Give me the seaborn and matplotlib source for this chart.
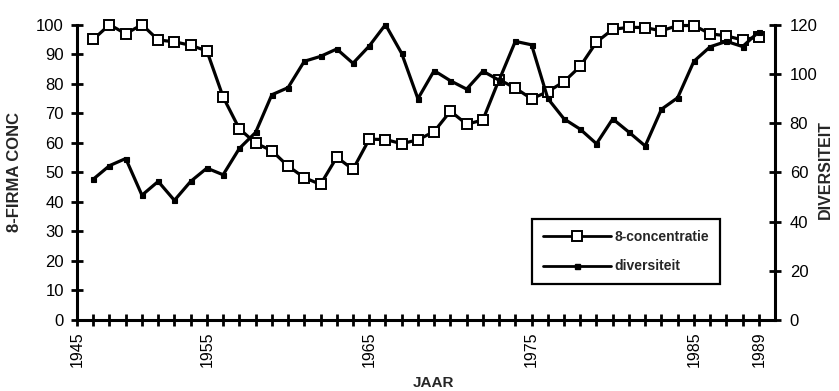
import matplotlib
matplotlib.use("Agg")
import matplotlib.pyplot as plt
import seaborn as sns
import pandas as pd
from matplotlib.lines import Line2D

# Jaarreeks en de twee indicatoren
years = list(range(1948, 1990))
conc = [95.0, 100.0, 96.9, 100.0, 94.8, 94.2, 93.0, 91.1,
        75.5, 64.7, 59.9, 57.3, 52.1, 48.2, 45.9, 55.1, 51.0, 61.2,
        61.1, 59.7, 61.0, 63.8, 70.7, 66.3, 67.7, 81.4, 78.5, 74.9,
        77.3, 80.7, 85.9, 94.1, 98.4, 99.1, 99.0, 97.9, 99.7, 99.7,
        96.9, 96.2, 94.8, 95.9]
div = [57.2, 62.7, 65.6, 50.7, 56.3, 48.6, 56.3, 61.7,
       59.0, 69.7, 76.2, 91.5, 94.4, 105.1, 107.1, 110.1, 104.3, 111.3,
       120.0, 108.3, 89.9, 101.3, 97.2, 93.8, 101.1, 97.4, 113.2, 111.8,
       90.0, 81.7, 77.5, 71.6, 81.7, 76.3, 70.7, 85.6, 90.3, 105.1,
       111.0, 113.2, 111.1, 117.1]

tick_pos = [1947, 1955, 1965, 1975, 1985, 1989]
tick_labels = ["1945", "1955", "1965", "1975", "1985", "1989"]
left_ticks = list(range(0, 101, 10))
right_ticks = list(range(0, 121, 20))

series_names = ["8-concentratie", "diversiteit"]

df = pd.DataFrame({"jaar": years, "conc": conc, "div": div})

sns.set_style("ticks")
plt.rcParams["font.family"] = ["Liberation Sans", "DejaVu Sans"]

fig = plt.figure(figsize=(8.39, 3.91), dpi=100)
ax = fig.add_axes([0.0918, 0.1816, 0.832, 0.7554])
ax2 = ax.twinx()

lw = 2.3
sns.lineplot(data=df, x="jaar", y="conc", ax=ax, color="black", lw=lw,
             marker="s", markersize=7, markerfacecolor="white",
             markeredgecolor="black", markeredgewidth=1.4, clip_on=False,
             legend=False)
sns.lineplot(data=df, x="jaar", y="div", ax=ax2, color="black", lw=lw,
             marker="s", markersize=3.6, markerfacecolor="black",
             markeredgecolor="black", markeredgewidth=0.8, clip_on=False,
             legend=False)

ax.set_xlim(1947, 1990)
ax.set_ylim(0, 100)
ax2.set_ylim(0, 120)

xt = list(range(1947, 1990))
ax.set_xticks(xt)
ax.set_xticklabels([tick_labels[tick_pos.index(y)] if y in tick_pos else ""
                    for y in xt], rotation=90, fontsize=11.5)
ax.set_yticks(left_ticks)
ax.set_yticklabels([str(v) for v in left_ticks], fontsize=12)
ax2.set_yticks(right_ticks)
ax2.set_yticklabels([str(v) for v in right_ticks], fontsize=12)

for a in (ax, ax2):
    a.spines["top"].set_visible(False)
    for s in ("left", "right", "bottom"):
        a.spines[s].set_linewidth(2.2)
        a.spines[s].set_color("black")
    a.tick_params(axis="both", direction="inout", length=9, width=2,
                  color="black", labelcolor="black")
ax.spines["right"].set_visible(False)
ax2.spines["left"].set_visible(False)
ax2.spines["bottom"].set_visible(False)
ax.tick_params(axis="y", pad=5)
ax.tick_params(axis="x", pad=4)
ax2.tick_params(axis="y", pad=6)

ax.set_xlabel("JAAR", fontsize=11, fontweight="bold")
ax.set_ylabel("8-FIRMA CONC", fontsize=12, fontweight="bold")
ax2.set_ylabel("DIVERSITEIT", fontsize=11.5, fontweight="bold", rotation=90)
ax.xaxis.set_label_coords(0.511, -0.19)
ax.yaxis.set_label_coords(-0.079, 0.5)
ax2.yaxis.set_label_coords(1.062, 0.51)

handles = [
    Line2D([], [], color="black", lw=2, marker="s", markersize=7,
           markerfacecolor="white", markeredgecolor="black",
           markeredgewidth=1.4),
    Line2D([], [], color="black", lw=2, marker="s", markersize=3.6,
           markerfacecolor="black", markeredgecolor="black"),
]
leg = ax2.legend(handles, series_names, loc="upper left",
                 bbox_to_anchor=(0.652, 0.342),
                 handlelength=4.9, handletextpad=0.2, labelspacing=1.1,
                 borderpad=0.8, borderaxespad=0, frameon=True, fancybox=False,
                 prop={"weight": "bold", "size": 10})
leg.get_frame().set_edgecolor("black")
leg.get_frame().set_linewidth(1.6)
leg.get_frame().set_facecolor("white")
leg.get_frame().set_alpha(1)

fig.savefig("out.png", dpi=100)
